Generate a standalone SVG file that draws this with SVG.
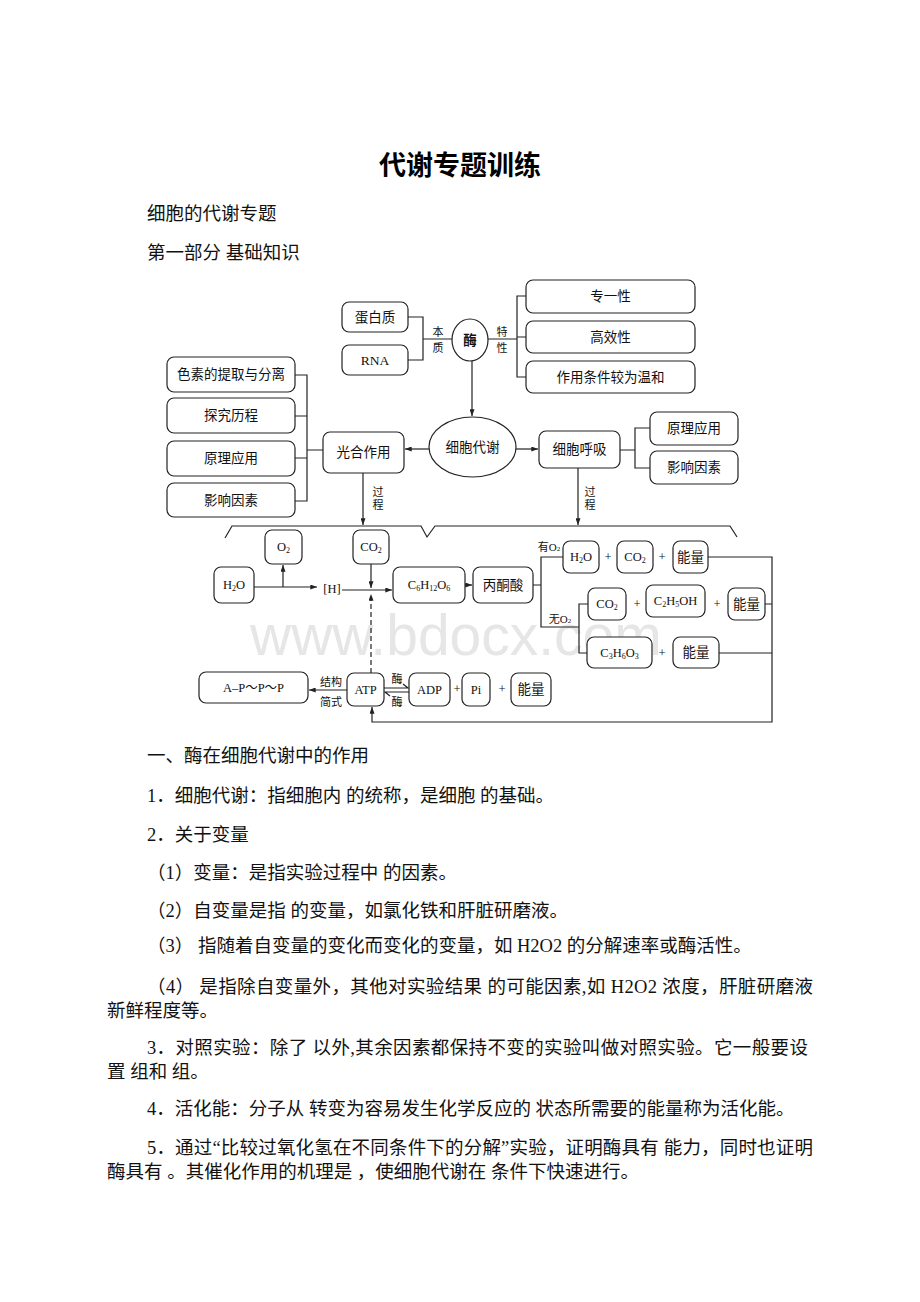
<svg xmlns="http://www.w3.org/2000/svg" width="920" height="1302" viewBox="0 0 920 1302">
<style>
.bg{fill:#fff}
.box{fill:#fff;stroke:#222;stroke-width:1.2}
.ln{fill:none;stroke:#222;stroke-width:1.2}
.dash{fill:none;stroke:#222;stroke-width:1.2;stroke-dasharray:5 3}
.t{font-family:"Liberation Serif","Noto Sans CJK SC",serif;font-size:13.5px;fill:#111;text-anchor:middle;dominant-baseline:central}
.f{font-family:"Liberation Serif","Noto Sans CJK SC",serif;font-size:12.5px;fill:#111;text-anchor:middle;dominant-baseline:central}
.s{font-family:"Liberation Serif","Noto Sans CJK SC",serif;font-size:11px;fill:#111;text-anchor:middle;dominant-baseline:central}
.p{font-family:"Liberation Serif","Noto Sans CJK SC",serif;font-size:18.5px;fill:#111}
.title{font-family:"Liberation Sans","Noto Sans CJK SC",sans-serif;font-size:27px;font-weight:bold;fill:#000;text-anchor:middle}
.wm{font-family:"Liberation Sans",sans-serif;font-size:57px;fill:#e6e6e6}
</style>
<defs>
<marker id="ar" viewBox="0 0 8 6" refX="8" refY="3" markerWidth="7" markerHeight="5" markerUnits="userSpaceOnUse" orient="auto">
<path d="M0,0 L8,3 L0,6 Z" fill="#222"/>
</marker>
</defs>
<rect class="bg" x="0" y="0" width="920" height="1302"/>
<text class="wm" x="250" y="655">www.bdocx.com</text>

<g id="header">
<text class="title" x="460" y="175">代谢专题训练</text>
<text class="p" x="147" y="220">细胞的代谢专题</text>
<text class="p" x="147" y="259">第一部分 基础知识</text>
</g>

<g id="connectors">
<path class="ln" d="M408,317 H423 V360 H408 M423,339 H452"/>
<path class="ln" d="M488,339 H517 M526,296 H517 V377 H526 M517,337 H526"/>
<path class="ln" d="M472,361 V416" marker-end="url(#ar)"/>
<path class="ln" d="M429,449 H405" marker-end="url(#ar)"/>
<path class="ln" d="M516,449 H538" marker-end="url(#ar)"/>
<path class="ln" d="M620,450 H635 M650,428 H635 V468 H650"/>
<path class="ln" d="M295,375 H307 V501 H295 M295,416 H307 M295,458 H307 M307,450 H323"/>
<path class="ln" d="M363,473 V525" marker-end="url(#ar)"/>
<path class="ln" d="M578,468 V525" marker-end="url(#ar)"/>
<path class="ln" d="M225,538 L232,526 H421 L427,537 L435,526 H730 L737,537"/>
<path class="ln" d="M254,587 H317" marker-end="url(#ar)"/>
<path class="ln" d="M283,587 V565" marker-end="url(#ar)"/>
<path class="ln" d="M342,590 H392" marker-end="url(#ar)"/>
<path class="ln" d="M371,564 V588" marker-end="url(#ar)"/>
<path class="dash" d="M371,673 V594" marker-end="url(#ar)"/>
<path class="ln" d="M465,585 H472" marker-end="url(#ar)"/>
<path class="ln" d="M533,585 H541 M563,557 H541 V627 H579 M588,604 H579 V653 H587"/>
<path class="ln" d="M708,557 H772 V722 H372 V707" marker-end="url(#ar)"/>
<path class="ln" d="M765,604 H772 M719,653 H772"/>
<path class="ln" d="M347,690 H309" marker-end="url(#ar)"/>
<path class="ln" d="M384,688 H408 L403,684 M409,692 H385 L390,696"/>
<text class="s" x="438" y="332">本</text>
<text class="s" x="438" y="348">质</text>
<text class="s" x="502" y="332">特</text>
<text class="s" x="502" y="348">性</text>
<text class="s" x="378" y="492">过</text>
<text class="s" x="378" y="505">程</text>
<text class="s" x="590" y="492">过</text>
<text class="s" x="590" y="505">程</text>
<text class="s" x="549" y="547">有O<tspan font-size="7" dy="2">2</tspan></text>
<text class="s" x="560" y="619">无O<tspan font-size="7" dy="2">2</tspan></text>
<text class="s" x="331" y="682">结构</text>
<text class="s" x="331" y="702">简式</text>
<text class="s" x="397" y="679">酶</text>
<text class="s" x="397" y="702">酶</text>
<text class="f" x="608" y="557">+</text>
<text class="f" x="662" y="557">+</text>
<text class="f" x="637" y="604">+</text>
<text class="f" x="717" y="604">+</text>
<text class="f" x="662" y="653">+</text>
<text class="f" x="457" y="689">+</text>
<text class="f" x="502" y="689">+</text>
<text class="f" x="332" y="589">[H]</text>
</g>

<g id="n_danbaizhi"><rect class="box" x="342" y="302" width="66" height="30" rx="7"/><text class="t" x="375" y="317">蛋白质</text></g>
<g id="n_rna"><rect class="box" x="342" y="345" width="66" height="30" rx="7"/><text class="t" x="375" y="360">RNA</text></g>
<g id="n_mei"><ellipse class="box" cx="470" cy="340" rx="18" ry="21"/><text class="t" x="470" y="340" font-weight="bold">酶</text></g>
<g id="n_zhuanyi"><rect class="box" x="526" y="280" width="169" height="33" rx="7"/><text class="t" x="610.5" y="296.5">专一性</text></g>
<g id="n_gaoxiao"><rect class="box" x="526" y="321" width="169" height="32" rx="7"/><text class="t" x="610.5" y="337">高效性</text></g>
<g id="n_wenhe"><rect class="box" x="526" y="361" width="169" height="32" rx="7"/><text class="t" x="610.5" y="377">作用条件较为温和</text></g>
<g id="n_xibaodaixie"><ellipse class="box" cx="472.5" cy="447" rx="43.5" ry="30"/><text class="t" x="472.5" y="447">细胞代谢</text></g>
<g id="n_guanghe"><rect class="box" x="323" y="432" width="81" height="41" rx="7"/><text class="t" x="363.5" y="452.5">光合作用</text></g>
<g id="n_huxi"><rect class="box" x="539" y="431" width="81" height="37" rx="7"/><text class="t" x="579.5" y="449.5">细胞呼吸</text></g>
<g id="n_yuanli_r"><rect class="box" x="650" y="412" width="88" height="33" rx="7"/><text class="t" x="694" y="428.5">原理应用</text></g>
<g id="n_yingxiang_r"><rect class="box" x="650" y="451" width="88" height="33" rx="7"/><text class="t" x="694" y="467.5">影响因素</text></g>
<g id="n_sesu"><rect class="box" x="167" y="357" width="128" height="35" rx="7"/><text class="t" x="231" y="374.5">色素的提取与分离</text></g>
<g id="n_tanjiu"><rect class="box" x="167" y="398" width="128" height="35" rx="7"/><text class="t" x="231" y="415.5">探究历程</text></g>
<g id="n_yuanli_l"><rect class="box" x="167" y="441" width="128" height="35" rx="7"/><text class="t" x="231" y="458.5">原理应用</text></g>
<g id="n_yingxiang_l"><rect class="box" x="167" y="483" width="128" height="34" rx="7"/><text class="t" x="231" y="500">影响因素</text></g>

<g id="n_o2"><rect class="box" x="265" y="530" width="37" height="34" rx="7"/><text class="f" x="283.5" y="547">O<tspan font-size="8" dy="3">2</tspan></text></g>
<g id="n_co2_top"><rect class="box" x="353" y="530" width="36" height="34" rx="7"/><text class="f" x="371" y="547">CO<tspan font-size="8" dy="3">2</tspan></text></g>
<g id="n_h2o"><rect class="box" x="214" y="567" width="40" height="36" rx="7"/><text class="f" x="234" y="585">H<tspan font-size="8" dy="3">2</tspan><tspan dy="-3">O</tspan></text></g>
<g id="n_c6"><rect class="box" x="393" y="567" width="72" height="36" rx="7"/><text class="f" x="429" y="585">C<tspan font-size="8" dy="3">6</tspan><tspan dy="-3">H</tspan><tspan font-size="8" dy="3">12</tspan><tspan dy="-3">O</tspan><tspan font-size="8" dy="3">6</tspan></text></g>
<g id="n_bingtongsuan"><rect class="box" x="473" y="567" width="60" height="36" rx="7"/><text class="t" x="503" y="585">丙酮酸</text></g>
<g id="n_h2o_r1"><rect class="box" x="563" y="541" width="36" height="32" rx="7"/><text class="f" x="581" y="557">H<tspan font-size="8" dy="3">2</tspan><tspan dy="-3">O</tspan></text></g>
<g id="n_co2_r1"><rect class="box" x="617" y="541" width="36" height="32" rx="7"/><text class="f" x="635" y="557">CO<tspan font-size="8" dy="3">2</tspan></text></g>
<g id="n_nl_r1"><rect class="box" x="673" y="541" width="35" height="32" rx="7"/><text class="t" x="690.5" y="557">能量</text></g>
<g id="n_co2_r2"><rect class="box" x="588" y="588" width="38" height="32" rx="7"/><text class="f" x="607" y="604">CO<tspan font-size="8" dy="3">2</tspan></text></g>
<g id="n_c2h5oh"><rect class="box" x="646" y="585" width="59" height="32" rx="7"/><text class="f" x="675.5" y="601">C<tspan font-size="8" dy="3">2</tspan><tspan dy="-3">H</tspan><tspan font-size="8" dy="3">5</tspan><tspan dy="-3">OH</tspan></text></g>
<g id="n_nl_r2"><rect class="box" x="728" y="588" width="37" height="32" rx="7"/><text class="t" x="746.5" y="604">能量</text></g>
<g id="n_c3h6o3"><rect class="box" x="587" y="637" width="65" height="31" rx="7"/><text class="f" x="619.5" y="652.5">C<tspan font-size="8" dy="3">3</tspan><tspan dy="-3">H</tspan><tspan font-size="8" dy="3">6</tspan><tspan dy="-3">O</tspan><tspan font-size="8" dy="3">3</tspan></text></g>
<g id="n_nl_r3"><rect class="box" x="673" y="637" width="46" height="31" rx="7"/><text class="t" x="696" y="652.5">能量</text></g>
<g id="n_appp"><rect class="box" x="199" y="672" width="109" height="31" rx="7"/><text class="f" x="253.5" y="687.5">A–P～P～P</text></g>
<g id="n_atp"><rect class="box" x="347" y="673" width="37" height="33" rx="7"/><text class="f" x="365.5" y="689.5">ATP</text></g>
<g id="n_adp"><rect class="box" x="409" y="673" width="41" height="33" rx="7"/><text class="f" x="429.5" y="689.5">ADP</text></g>
<g id="n_pi"><rect class="box" x="462" y="673" width="28" height="33" rx="7"/><text class="f" x="476" y="689.5">Pi</text></g>
<g id="n_nl_atp"><rect class="box" x="511" y="673" width="40" height="33" rx="7"/><text class="t" x="531" y="689.5">能量</text></g>

<g id="body">
<text class="p" x="147" y="762">一、酶在细胞代谢中的作用</text>
<text class="p" x="147" y="802">1．细胞代谢：指细胞内 的统称，是细胞 的基础。</text>
<text class="p" x="147" y="841">2．关于变量</text>
<text class="p" x="147" y="879">（1）变量：是指实验过程中 的因素。</text>
<text class="p" x="147" y="917">（2）自变量是指 的变量，如氯化铁和肝脏研磨液。</text>
<text class="p" x="147" y="952">（3） 指随着自变量的变化而变化的变量，如 H2O2 的分解速率或酶活性。</text>
<text class="p" x="147" y="993" textLength="666" lengthAdjust="spacing">（4） 是指除自变量外，其他对实验结果 的可能因素,如 H2O2 浓度，肝脏研磨液</text>
<text class="p" x="107" y="1017">新鲜程度等。</text>
<text class="p" x="147" y="1054" textLength="661" lengthAdjust="spacing">3．对照实验：除了 以外,其余因素都保持不变的实验叫做对照实验。它一般要设</text>
<text class="p" x="107" y="1078">置 组和 组。</text>
<text class="p" x="147" y="1115">4．活化能：分子从 转变为容易发生化学反应的 状态所需要的能量称为活化能。</text>
<text class="p" x="147" y="1154" textLength="666" lengthAdjust="spacing">5．通过“比较过氧化氢在不同条件下的分解”实验，证明酶具有 能力，同时也证明</text>
<text class="p" x="107" y="1178">酶具有 。其催化作用的机理是 ，使细胞代谢在 条件下快速进行。</text>
</g>
</svg>
